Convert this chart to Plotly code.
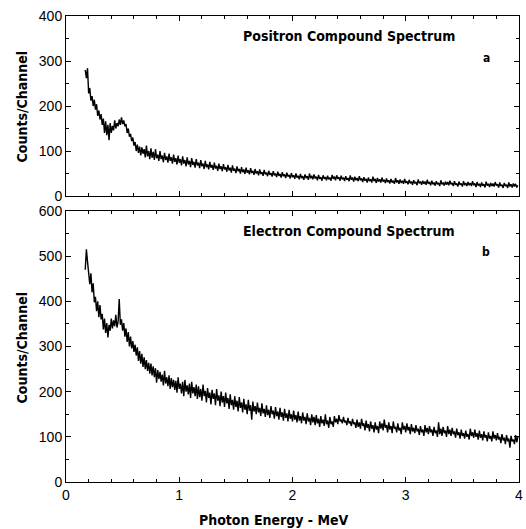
import plotly.graph_objects as go

# channel energy grid (MeV)
E_START = 0.17
E_STEP = 0.01

positron_counts = [
    280, 262, 284, 228, 240, 212, 222, 200, 214, 192, 204, 178, 190, 170, 182, 158, 172, 140, 166, 135,
    158, 124, 162, 140, 156, 146, 168, 150, 162, 155, 170, 158, 175, 160, 168, 155, 160, 140, 150, 132,
    138, 122, 130, 112, 120, 100, 114, 96, 110, 90, 108, 94, 104, 86, 112, 88, 100, 82, 106, 85,
    98, 80, 104, 84, 92, 78, 100, 82, 90, 75, 96, 80, 88, 74, 94, 78, 86, 72, 92, 76,
    84, 70, 90, 74, 82, 68, 88, 72, 80, 66, 86, 70, 78, 64, 84, 69, 76, 63, 82, 68,
    74, 62, 80, 66, 72, 60, 78, 64, 70, 59, 76, 63, 69, 58, 74, 61, 67, 56, 72, 60,
    66, 55, 71, 59, 64, 54, 69, 57, 63, 52, 68, 56, 61, 51, 66, 55, 60, 50, 64, 53,
    59, 49, 63, 52, 57, 48, 62, 51, 56, 47, 60, 50, 55, 46, 59, 49, 53, 45, 58, 48,
    52, 44, 56, 47, 51, 43, 55, 46, 50, 42, 54, 45, 49, 41, 53, 44, 48, 40, 52, 43,
    47, 39, 51, 42, 46, 38, 50, 41, 45, 37, 49, 40, 44, 36, 48, 40, 44, 36, 50, 39,
    45, 37, 48, 39, 43, 35, 47, 38, 42, 34, 46, 38, 42, 35, 45, 37, 41, 34, 47, 38,
    43, 35, 46, 38, 42, 34, 45, 37, 41, 33, 44, 36, 40, 33, 46, 36, 41, 32, 43, 35,
    40, 33, 44, 35, 39, 31, 42, 34, 38, 30, 41, 33, 37, 30, 43, 33, 38, 29, 40, 32,
    37, 30, 41, 32, 36, 29, 39, 31, 35, 28, 38, 30, 34, 27, 40, 30, 35, 27, 37, 29,
    34, 27, 38, 29, 33, 26, 36, 28, 32, 25, 35, 28, 31, 24, 37, 28, 32, 25, 34, 27,
    32, 25, 36, 27, 31, 24, 34, 26, 30, 23, 33, 26, 29, 22, 35, 26, 30, 23, 32, 25,
    31, 24, 34, 26, 29, 22, 33, 25, 28, 21, 32, 25, 28, 21, 33, 24, 29, 22, 31, 24,
    29, 22, 33, 24, 28, 20, 31, 23, 27, 20, 30, 23, 26, 19, 32, 23, 27, 20, 29, 22,
    28, 21, 31, 23, 26, 19, 30, 22, 25, 18, 29, 22, 25, 18, 30, 21, 26, 19, 28, 21,
    27, 19, 24,
]

electron_counts = [
    470, 515, 488, 452, 438, 462, 420, 440, 398, 410, 378, 400, 365, 392, 360, 372, 338, 362, 330, 352,
    320, 348, 335, 362, 340, 358, 345, 370, 342, 355, 405, 348, 360, 335, 352, 322, 340, 310, 332, 300,
    322, 296, 312, 288, 304, 280, 298, 268, 290, 262, 284, 255, 276, 250, 270, 246, 264, 240, 262, 236,
    256, 232, 252, 220, 248, 228, 244, 222, 238, 214, 246, 218, 232, 212, 236, 206, 230, 210, 226, 204,
    224, 198, 232, 206, 218, 196, 222, 190, 226, 200, 214, 194, 218, 186, 222, 196, 210, 190, 216, 184,
    212, 188, 206, 180, 216, 190, 202, 176, 208, 186, 198, 172, 204, 184, 196, 170, 206, 180, 192, 168,
    200, 176, 190, 166, 198, 174, 186, 162, 194, 170, 182, 160, 190, 166, 180, 156, 188, 164, 176, 154,
    184, 160, 172, 150, 182, 158, 170, 138, 178, 156, 168, 150, 176, 154, 164, 146, 174, 152, 162, 144,
    170, 148, 160, 142, 168, 150, 158, 140, 166, 146, 156, 138, 164, 144, 154, 136, 162, 142, 152, 134,
    160, 140, 150, 134, 158, 138, 148, 132, 156, 136, 146, 130, 154, 136, 144, 128, 152, 134, 142, 126,
    150, 132, 144, 126, 148, 130, 140, 122, 146, 130, 138, 124, 150, 128, 136, 120, 144, 128, 134, 122,
    146, 132, 140, 128, 148, 134, 138, 130, 144, 132, 136, 126, 142, 130, 134, 124, 140, 128, 132, 120,
    138, 122, 132, 118, 140, 124, 130, 114, 136, 120, 128, 112, 134, 118, 126, 110, 132, 116, 124, 108,
    134, 118, 130, 114, 138, 120, 126, 110, 132, 116, 124, 108, 134, 118, 122, 110, 130, 114, 120, 106,
    132, 116, 124, 110, 130, 114, 122, 106, 128, 112, 120, 108, 126, 112, 118, 104, 124, 110, 116, 102,
    126, 110, 120, 106, 124, 110, 116, 102, 122, 108, 114, 100, 132, 106, 118, 102, 122, 108, 114, 100,
    124, 106, 116, 102, 120, 106, 112, 98, 118, 104, 110, 96, 116, 102, 108, 96, 114, 100, 106, 94,
    118, 102, 110, 98, 116, 100, 108, 94, 114, 98, 106, 92, 112, 98, 104, 90, 110, 96, 102, 90,
    112, 96, 104, 92, 108, 94, 100, 86, 106, 92, 98, 84, 104, 90, 96, 76, 102, 90, 94, 84,
    104, 88, 100,
]

x_top = [E_START + i * E_STEP for i in range(len(positron_counts))]
x_bot = [E_START + i * E_STEP for i in range(len(electron_counts))]

x_ticks = [0, 1, 2, 3, 4]
y_ticks_top = [0, 100, 200, 300, 400]
y_ticks_bot = [0, 100, 200, 300, 400, 500, 600]

NARROW = "Liberation Sans Narrow, DejaVu Sans Condensed, Arial Narrow, sans-serif"
TICKFONT = dict(family="Liberation Sans, Arial, sans-serif", size=14, color="black")

fig = go.Figure()
fig.add_trace(go.Scatter(x=x_top, y=positron_counts, mode="lines",
                         line=dict(color="black", width=1.4),
                         xaxis="x", yaxis="y", showlegend=False))
fig.add_trace(go.Scatter(x=x_bot, y=electron_counts, mode="lines",
                         line=dict(color="black", width=1.4),
                         xaxis="x2", yaxis="y2", showlegend=False))

axis_common = dict(showline=True, linecolor="black", linewidth=1, mirror="ticks",
                   ticks="inside", ticklen=5, tickcolor="black", showgrid=False,
                   zeroline=False, tickfont=TICKFONT, ticklabeloverflow="allow")

fig.update_layout(
    width=526, height=529,
    margin=dict(l=66, r=3, t=16, b=47),
    paper_bgcolor="white", plot_bgcolor="white",
    xaxis=dict(domain=[0, 1], anchor="y", range=[0, 4], tickvals=x_ticks,
               showticklabels=False,
               minor=dict(dtick=0.2, ticks="inside", ticklen=3, tickcolor="black"),
               **axis_common),
    yaxis=dict(domain=[0.6137, 1], anchor="x", range=[0, 400], tickvals=y_ticks_top,
               minor=dict(dtick=50, ticks="inside", ticklen=3, tickcolor="black"),
               **axis_common),
    xaxis2=dict(domain=[0, 1], anchor="y2", range=[0, 4], tickvals=x_ticks,
                minor=dict(dtick=0.2, ticks="inside", ticklen=3, tickcolor="black"),
                **axis_common),
    yaxis2=dict(domain=[0, 0.5815], anchor="x2", range=[0, 600], tickvals=y_ticks_bot,
                minor=dict(dtick=50, ticks="inside", ticklen=3, tickcolor="black"),
                **axis_common),
)

ann = [
    dict(text="Positron Compound Spectrum", x=352, y=529 - 36, size=14),
    dict(text="Electron Compound Spectrum", x=352, y=529 - 231, size=14),
    dict(text="a", x=490, y=529 - 58, size=12),
    dict(text="b", x=490, y=529 - 252, size=12),
    dict(text="Photon Energy - MeV", x=276, y=529 - 520, size=14),
]
for a in ann:
    fig.add_annotation(text=a["text"], xref="paper", yref="paper",
                       x=(a["x"] - 66) / (526 - 66 - 3), y=(a["y"] - 47) / (529 - 16 - 47),
                       xanchor="center", yanchor="middle", showarrow=False,
                       font=dict(family=NARROW, size=a["size"], color="black", weight="bold"))
for ycen in (107, 348):
    fig.add_annotation(text="Counts/Channel", xref="paper", yref="paper",
                       x=(22 - 66) / (526 - 66 - 3), y=(529 - ycen - 47) / (529 - 16 - 47),
                       xanchor="center", yanchor="middle", textangle=-90, showarrow=False,
                       font=dict(family=NARROW, size=14, color="black", weight="bold"))

fig.write_html("out.html")
